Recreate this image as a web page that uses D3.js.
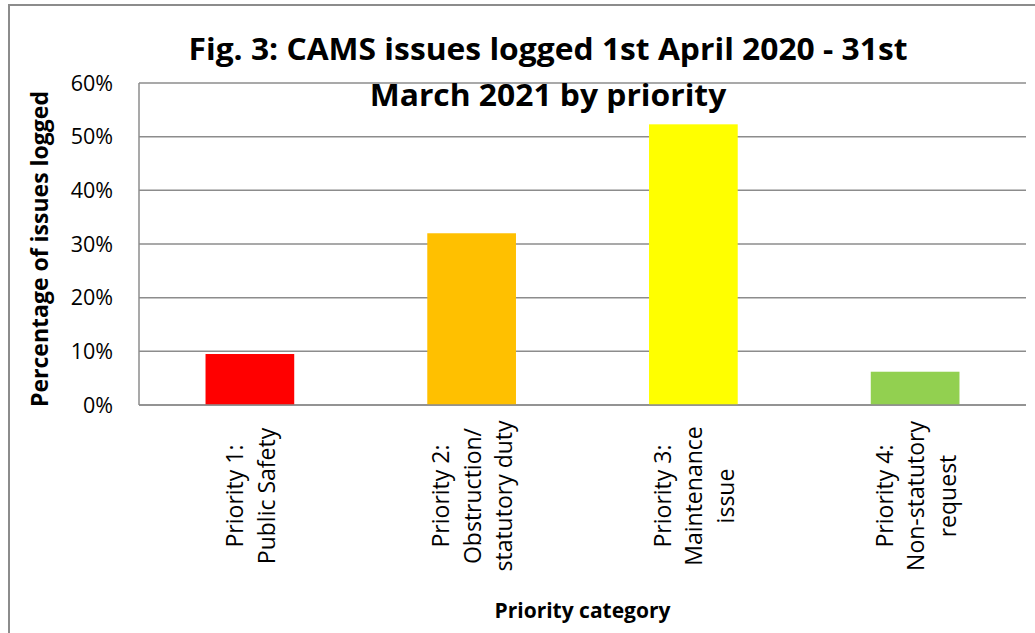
<!DOCTYPE html>
<html>
<head>
<meta charset="utf-8">
<script src="https://cdn.jsdelivr.net/npm/d3@7"></script>
<style>
  html, body { margin: 0; padding: 0; background: #fff; }
  svg { display: block; font-family: "Open Sans", "Noto Sans", sans-serif; }
</style>
</head>
<body>
<svg id="chart" width="1035" height="633"></svg>
<script>
// chart data
const categories = ["Priority 1", "Priority 2", "Priority 3", "Priority 4"];
const categoryLabels = [
    ["Priority 1:", "Public Safety"],
    ["Priority 2:", "Obstruction/", "statutory duty"],
    ["Priority 3:", "Maintenance", "issue"],
    ["Priority 4:", "Non-statutory", "request"]
];
const values = [9.5, 32.0, 52.3, 6.2];
const barColors = ["#FF0000", "#FFC000", "#FFFF00", "#92D050"];
const yTicks = [0, 10, 20, 30, 40, 50, 60];
const titleLines = ["Fig. 3: CAMS issues logged 1st April 2020 - 31st", "March 2021 by priority"];

const svg = d3.select("#chart");
const plot = { left: 139, right: 1026, top: 83, bottom: 405 };

// outer chart border (runs past the frame on right and bottom)
svg.append("rect")
    .attr("x", 9).attr("y", 5)
    .attr("width", 1100).attr("height", 700)
    .attr("fill", "none")
    .attr("stroke", "#8c8c8c")
    .attr("stroke-width", 2);

const x = d3.scaleBand()
    .domain(categories)
    .range([plot.left, plot.right])
    .paddingInner(0.6)
    .paddingOuter(0.3);

const y = d3.scaleLinear()
    .domain([0, 60])
    .range([plot.bottom, plot.top]);

// gridlines
svg.append("g")
    .selectAll("line")
    .data(yTicks)
    .join("line")
    .attr("x1", plot.left).attr("x2", plot.right)
    .attr("y1", d => y(d)).attr("y2", d => y(d))
    .attr("stroke", "#8c8c8c")
    .attr("stroke-width", 1.5);

// left axis line
svg.append("line")
    .attr("x1", plot.left).attr("x2", plot.left)
    .attr("y1", y(60)).attr("y2", y(0))
    .attr("stroke", "#8c8c8c")
    .attr("stroke-width", 1.5);

// bars
svg.append("g")
    .selectAll("rect")
    .data(values)
    .join("rect")
    .attr("x", (d, i) => x(categories[i]))
    .attr("y", d => y(d))
    .attr("width", x.bandwidth())
    .attr("height", d => y(0) - y(d))
    .attr("fill", (d, i) => barColors[i]);

// redraw baseline above bars
svg.append("line")
    .attr("x1", plot.left).attr("x2", plot.right)
    .attr("y1", y(0)).attr("y2", y(0))
    .attr("stroke", "#8c8c8c")
    .attr("stroke-width", 1.5);

// y tick labels
svg.append("g")
    .selectAll("text")
    .data(yTicks)
    .join("text")
    .attr("x", 113)
    .attr("y", d => y(d) + 7.5)
    .attr("text-anchor", "end")
    .attr("font-size", 21.5)
    .attr("fill", "#000")
    .text(d => d + "%");

// category labels, rotated
const lineGap = 31.5;
const labelG = svg.append("g");
categoryLabels.forEach((lines, i) => {
    const cx = x(categories[i]) + x.bandwidth() / 2;
    lines.forEach((t, j) => {
        const bx = cx + (j - (lines.length - 1) / 2) * lineGap + 9;
        labelG.append("text")
            .attr("transform", `translate(${bx},496) rotate(-90)`)
            .attr("text-anchor", "middle")
            .attr("font-size", 23)
            .attr("fill", "#000")
            .text(t);
    });
});

// axis titles
svg.append("text")
    .attr("transform", "translate(48,249) rotate(-90)")
    .attr("text-anchor", "middle")
    .attr("font-size", 23)
    .attr("font-weight", "bold")
    .text("Percentage of issues logged");

svg.append("text")
    .attr("x", (plot.left + plot.right) / 2)
    .attr("y", 618)
    .attr("text-anchor", "middle")
    .attr("font-size", 21)
    .attr("font-weight", "bold")
    .text("Priority category");

// chart title
svg.append("g")
    .attr("transform", "translate(548,0) scale(1.06,1)")
    .selectAll("text")
    .data(titleLines)
    .join("text")
    .attr("x", 0)
    .attr("y", (d, i) => 60 + i * 46)
    .attr("text-anchor", "middle")
    .attr("font-size", 30)
    .attr("font-weight", "bold")
    .text(d => d);
</script>
</body>
</html>
